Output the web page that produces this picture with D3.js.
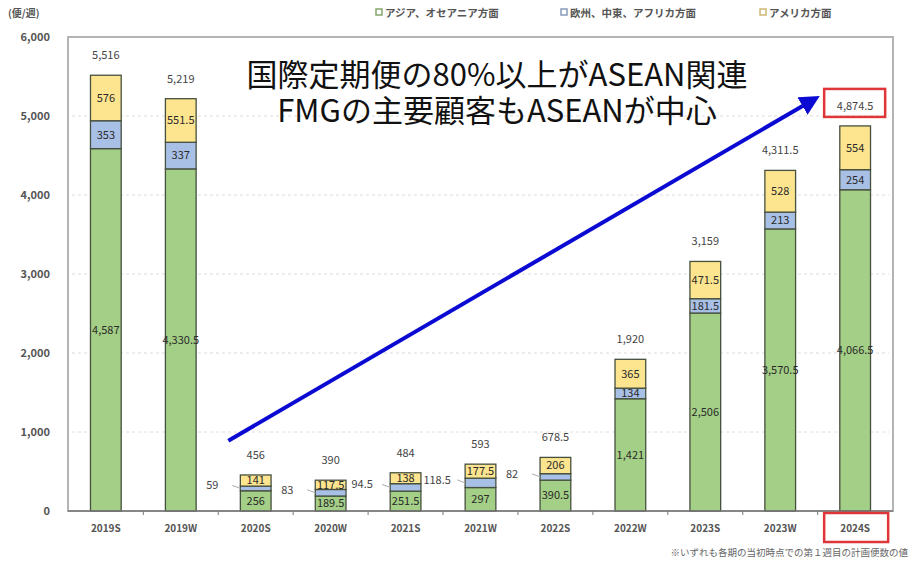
<!DOCTYPE html>
<html>
<head>
<meta charset="utf-8">
<script src="https://cdn.jsdelivr.net/npm/d3@7"></script>
<style>
  body { margin: 0; background: #fff; }
  text { font-family: "Noto Sans CJK JP", "Noto Sans", sans-serif; }
</style>
</head>
<body>
<svg id="chart"></svg>
<script>
const periods = ['2019S', '2019W', '2020S', '2020W', '2021S', '2021W', '2022S', '2022W', '2023S', '2023W', '2024S'];
const asiaOceania = [4587, 4330.5, 256, 189.5, 251.5, 297, 390.5, 1421, 2506, 3570.5, 4066.5];
const europeMideastAfrica = [353, 337, 59, 83, 94.5, 118.5, 82, 134, 181.5, 213, 254];
const americas = [576, 551.5, 141, 117.5, 138, 177.5, 206, 365, 471.5, 528, 554];
const totals = [5516, 5219, 456, 390, 484, 593, 678.5, 1920, 3159, 4311.5, 4874.5];
const yTicks = [0, 1000, 2000, 3000, 4000, 5000, 6000];
const seriesNames = ['アジア、オセアニア方面', '欧州、中東、アフリカ方面', 'アメリカ方面'];
const seriesColors = ['#a4cf86', '#a9c0e6', '#fde48e'];
const noteLines = ['国際定期便の80%以上がASEAN関連', 'FMGの主要顧客もASEANが中心'];

const W = 912, H = 563;
const margin = {top: 37, right: 19, bottom: 52, left: 68};

const svg = d3.select('#chart').attr('width', W).attr('height', H);

const x = d3.scaleBand().domain(periods).range([margin.left, W - margin.right]).paddingInner(0.59).paddingOuter(0.3);
const y = d3.scaleLinear().domain([0, 6000]).range([H - margin.bottom, margin.top]);

const fmt = d3.format(',');

// frame
svg.append('rect')
  .attr('x', margin.left).attr('y', y(6000))
  .attr('width', W - margin.left - margin.right).attr('height', y(0) - y(6000))
  .attr('fill', 'none').attr('stroke', '#b4b4b4').attr('stroke-width', 2);

// grid
svg.append('g').selectAll('line')
  .data(yTicks.filter(d => d > 0 && d < 6000))
  .join('line')
  .attr('x1', margin.left + 4).attr('x2', W - margin.right - 4)
  .attr('y1', d => y(d)).attr('y2', d => y(d))
  .attr('stroke', '#dcdcdc').attr('stroke-dasharray', '3,3');

// y axis labels
const yAxis = d3.axisLeft(y).tickValues(yTicks).tickFormat(fmt).tickSize(0).tickPadding(18);
svg.append('g').attr('transform', `translate(${margin.left},0)`).call(yAxis)
  .call(g => g.select('.domain').remove())
  .call(g => g.selectAll('text').attr('font-size', 11).attr('font-weight', 'bold').attr('fill', '#555'));

svg.append('text').attr('x', 8).attr('y', 17).attr('font-size', 10).attr('font-weight', 'bold')
  .attr('fill', '#555').text('(便/週)');

// stacked data
const rows = periods.map((p, i) => ({period: p, a: asiaOceania[i], e: europeMideastAfrica[i], m: americas[i], total: totals[i]}));
const stack = d3.stack().keys(['a', 'e', 'm'])(rows);

const bars = svg.append('g');
stack.forEach((layer, li) => {
  bars.selectAll(`.seg${li}`)
    .data(layer)
    .join('rect')
    .attr('class', `seg${li}`)
    .attr('x', d => x(d.data.period))
    .attr('width', x.bandwidth())
    .attr('y', d => y(d[1]))
    .attr('height', d => y(d[0]) - y(d[1]))
    .attr('fill', seriesColors[li])
    .attr('stroke', '#46503f').attr('stroke-width', 1.3);
});

// x axis
const xAxisG = svg.append('g').attr('transform', `translate(0,${y(0)})`);
xAxisG.append('line').attr('x1', margin.left).attr('x2', W - margin.right)
  .attr('stroke', '#777').attr('stroke-width', 1.5);
xAxisG.selectAll('.tick-mark')
  .data(periods.slice(1))
  .join('line')
  .attr('x1', d => x(d) - x.step() * x.paddingInner() / 2)
  .attr('x2', d => x(d) - x.step() * x.paddingInner() / 2)
  .attr('y1', 0).attr('y2', 4).attr('stroke', '#777');
xAxisG.selectAll('.xl')
  .data(periods)
  .join('text')
  .attr('x', d => x(d) + x.bandwidth() / 2)
  .attr('y', 21)
  .attr('text-anchor', 'middle')
  .attr('font-size', 10).attr('font-weight', 'bold').attr('fill', '#555')
  .text(d => d);

// segment labels
const small = d => d.data.total < 1000;
const labels = svg.append('g').attr('font-size', 11).attr('fill', '#2a2a2a').attr('text-anchor', 'middle');
stack.forEach((layer, li) => {
  layer.forEach(d => {
    const cx = x(d.data.period) + x.bandwidth() / 2;
    const cy = (y(d[0]) + y(d[1])) / 2;
    const v = d[1] - d[0];
    if (li === 1 && small(d)) {
      const lx = x(d.data.period) - 20;
      labels.append('line').attr('x1', lx + 12).attr('x2', x(d.data.period))
        .attr('y1', cy - 3).attr('y2', cy).attr('stroke', '#aaa');
      labels.append('text').attr('x', lx - 8).attr('y', cy - 3).attr('dy', '0.35em')
        .attr('fill', '#444').text(fmt(v));
    } else {
      labels.append('text').attr('x', cx).attr('y', cy).attr('dy', '0.35em').text(fmt(v));
    }
  });
});

// totals
svg.append('g').selectAll('text')
  .data(rows)
  .join('text')
  .attr('x', d => x(d.period) + x.bandwidth() / 2)
  .attr('y', d => y(d.total) - 20)
  .attr('dy', '0.35em')
  .attr('text-anchor', 'middle').attr('font-size', 11).attr('fill', '#444')
  .text(d => fmt(d.total));

// highlight last period
const last = periods[periods.length - 1];
const lastCx = x(last) + x.bandwidth() / 2;
svg.append('rect')
  .attr('x', lastCx - 31).attr('y', y(totals[totals.length - 1]) - 37)
  .attr('width', 61).attr('height', 28)
  .attr('fill', 'none').attr('stroke', '#e0363a').attr('stroke-width', 2.5);
svg.append('rect')
  .attr('x', lastCx - 31).attr('y', y(0) + 2)
  .attr('width', 64).attr('height', 29)
  .attr('fill', 'none').attr('stroke', '#e0363a').attr('stroke-width', 2.5);

// legend
const legendX = [376, 561, 760];
const legend = svg.append('g').selectAll('g')
  .data(seriesNames)
  .join('g')
  .attr('transform', (d, i) => `translate(${legendX[i]},13)`);
legend.append('rect').attr('x', 0).attr('y', -4).attr('width', 6).attr('height', 6)
  .attr('fill', '#fff').attr('stroke', (d, i) => d3.color(seriesColors[i]).darker(0.6)).attr('stroke-width', 1.5);
legend.append('text').attr('x', 9).attr('y', 0).attr('dy', '0.35em')
  .attr('font-size', 10.5).attr('font-weight', 'bold').attr('fill', '#555').text(d => d);

// arrow annotation
svg.append('defs').append('marker')
  .attr('id', 'arrow-head')
  .attr('viewBox', '0 0 10 10')
  .attr('refX', 5).attr('refY', 5)
  .attr('markerWidth', 5).attr('markerHeight', 5)
  .attr('orient', 'auto')
  .append('path').attr('d', 'M0,0 L10,5 L0,10 z').attr('fill', '#0a0ad2');

svg.append('line')
  .attr('x1', x('2020S') - 12).attr('y1', y(890))
  .attr('x2', lastCx - 44).attr('y2', y(5190))
  .attr('stroke', '#0a0ad2').attr('stroke-width', 4)
  .attr('marker-end', 'url(#arrow-head)');

// two-line callout as one text element
svg.append('text')
  .attr('text-anchor', 'middle').attr('font-size', 31).attr('fill', '#111')
  .selectAll('tspan')
  .data(noteLines)
  .join('tspan')
  .attr('x', 497)
  .attr('y', (d, i) => 86 + i * 36)
  .text(d => d);

// footnote
svg.append('text').attr('x', W - 4).attr('y', 556).attr('text-anchor', 'end')
  .attr('font-size', 9.5).attr('fill', '#666')
  .text('※いずれも各期の当初時点での第１週目の計画便数の値');
</script>
</body>
</html>
